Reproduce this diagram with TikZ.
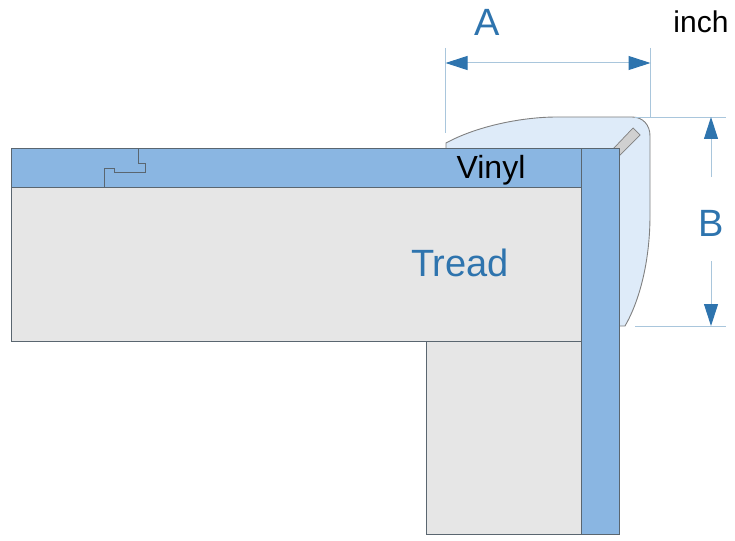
\documentclass[tikz,border=0pt]{standalone}
\usepackage{fontspec}
\setmainfont{Liberation Sans}
\usetikzlibrary{arrows.meta,positioning}
\definecolor{vinylblue}{HTML}{8AB6E2}
\definecolor{noseblue}{HTML}{DEEBF9}
\definecolor{treadgrey}{HTML}{E6E6E6}
\definecolor{stripgrey}{HTML}{D0D0D0}
\definecolor{outline}{HTML}{5A6670}
\definecolor{dimblue}{HTML}{2E74AE}
\definecolor{extblue}{HTML}{A9C6DC}
\tikzset{
  part/.style={draw=outline, line width=0.9pt},
  extline/.style={draw=extblue, line width=1pt},
  dimline/.style={extline, -{Triangle[length=22pt,width=14pt,color=dimblue]}},
  dimboth/.style={extline, {Triangle[length=22pt,width=14pt,color=dimblue]}-{Triangle[length=22pt,width=14pt,color=dimblue]}},
  dimlabel/.style={text=dimblue, font=\fontsize{38}{38}\selectfont, inner sep=0pt},
}
\begin{document}
\begin{tikzpicture}[x=1pt,y=-1pt]
  \useasboundingbox (0,0) rectangle (735,540);
  % nose
  \draw[draw=gray, line width=0.9pt, fill=noseblue] (446,149) -- (446,143)
    .. controls (475,127) and (520,117) .. (557,117) -- (632,117)
    .. controls (643,117) and (650,125) .. (650,136) -- (650,215)
    .. controls (650,260) and (640,300) .. (625,326) -- (615,326) -- (615,149) -- cycle;
  \draw[draw=gray, line width=0.7pt, fill=stripgrey] (613,149) -- (633,128) -- (640,135) -- (619,156) -- cycle;
  % tread and riser
  \draw[part, fill=treadgrey] (426.5,341) rectangle (581,534);
  \draw[part, fill=treadgrey] (11,187) rectangle (581,341);
  \draw[part, fill=vinylblue] (11,148.5) rectangle (581,187);
  \draw[part, fill=vinylblue] (581,148.5) rectangle (619,534);
  % joint
  \draw[part] (104,187) -- (104,168) -- (114,168) -- (114,172) -- (145,172) -- (145,163) -- (138,163) -- (138,148.5);
  % labels
  \node[dimlabel] (labelA) at (487,22) {A};
  \node[dimlabel] (labelB) at (711,223) {B};
  \node[dimlabel] (labelTread) at (460,263) {Tread};
  \node[inner sep=0pt, font=\fontsize{32}{32}\selectfont] (labelVinyl) at (491,170) {Vinyl};
  \node[inner sep=0pt, font=\fontsize{30}{30}\selectfont] (labelInch) at (701,22) {inch};
  % dimensions
  \coordinate (leftA) at (445.5,63);
  \coordinate (rightA) at (650.5,63);
  \coordinate (topB) at (711,117);
  \coordinate (botB) at (711,326);
  \coordinate (stopTop) at (711,177);
  \coordinate (stopBot) at (711,261);
  \draw[extline] (445.5,48) -- (445.5,133);
  \draw[extline] (650.5,48) -- (650.5,117.5);
  \draw[extline] (635,117.5) -- (726,117.5);
  \draw[extline] (635,326) -- (726,326);
  \draw[dimboth] (leftA) -- (rightA);
  \draw[dimline] (stopTop) -- (topB);
  \draw[dimline] (stopBot) -- (botB);
\end{tikzpicture}
\end{document}
